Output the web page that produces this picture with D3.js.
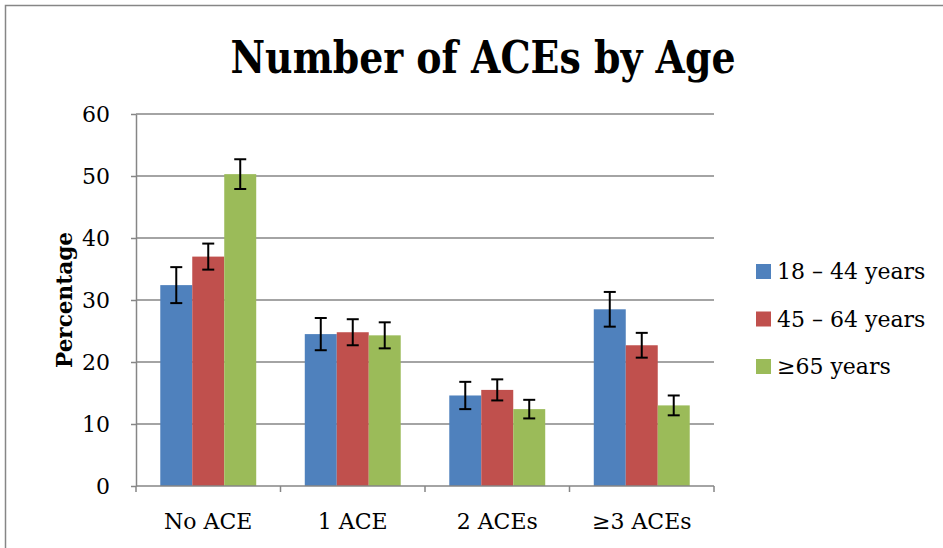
<!DOCTYPE html>
<html><head><meta charset="utf-8">
<script src="https://cdn.jsdelivr.net/npm/d3@7"></script>
<style>body{margin:0;background:#fff}svg{display:block}</style>
</head><body>
<svg id="c" width="943" height="548"></svg>
<script>
const categories = ["No ACE", "1 ACE", "2 ACEs", "≥3 ACEs"];
const seriesNames = ["18 – 44 years", "45 – 64 years", "≥65 years"];
const colors = ["#4F81BD", "#C0504D", "#9BBB59"];
const values18_44 = [32.4, 24.5, 14.6, 28.5];
const values45_64 = [37.0, 24.8, 15.5, 22.7];
const values65 = [50.3, 24.3, 12.4, 13.0];
const err18_44 = [2.9, 2.6, 2.2, 2.8];
const err45_64 = [2.1, 2.1, 1.7, 2.0];
const err65 = [2.4, 2.1, 1.5, 1.6];
const yTicks = [0, 10, 20, 30, 40, 50, 60];
const title = "Number of ACEs by Age";
const yTitle = "Percentage";

const seriesVals = [values18_44, values45_64, values65];
const seriesErr = [err18_44, err45_64, err65];

const svg = d3.select("#c");
const serif = "'DejaVu Serif', serif";

// outer border
svg.append("rect").attr("x", 5.5).attr("y", 5.5).attr("width", 960).attr("height", 560)
  .attr("fill", "none").attr("stroke", "#868686").attr("stroke-width", 1.5);

const L = 136, R = 714, T = 114, B = 486;
const y = d3.scaleLinear().domain([0, 60]).range([B, T]);
const x0 = d3.scaleBand().domain(categories).range([L, R]).padding(0);
const groupFrac = 0.664;
const x1 = d3.scaleBand().domain(d3.range(seriesNames.length))
  .range([0, x0.bandwidth() * groupFrac]).padding(0);
const groupOff = x0.bandwidth() * (1 - groupFrac) / 2;

// gridlines
svg.append("g").selectAll("line").data(yTicks.filter(d => d > 0)).join("line")
  .attr("x1", L).attr("x2", R).attr("y1", d => y(d)).attr("y2", d => y(d))
  .attr("stroke", "#868686").attr("stroke-width", 1.5);

// y axis
const yAxis = svg.append("g").attr("transform", `translate(${L},0)`)
  .call(d3.axisLeft(y).tickValues(yTicks).tickSize(5).tickPadding(21).tickSizeOuter(0));
yAxis.select(".domain").attr("stroke", "#868686").attr("stroke-width", 1.5);
yAxis.selectAll(".tick line").attr("stroke", "#868686").attr("stroke-width", 1.5);
yAxis.selectAll("text").attr("font-family", serif).attr("font-size", 22).attr("fill", "#000");

// bars
seriesVals.forEach((vals, s) => {
  svg.append("g").selectAll("rect").data(vals).join("rect")
    .attr("x", (d, i) => x0(categories[i]) + groupOff + x1(s))
    .attr("width", x1.bandwidth())
    .attr("y", d => y(d))
    .attr("height", d => B - y(d))
    .attr("fill", colors[s]);
});

// x axis
const xg = svg.append("g");
xg.append("line").attr("x1", L).attr("x2", R).attr("y1", B).attr("y2", B)
  .attr("stroke", "#868686").attr("stroke-width", 1.5);
const bounds = categories.map(c => x0(c)).concat([R]);
xg.selectAll("line.tk").data(bounds).join("line").attr("class", "tk")
  .attr("x1", d => d).attr("x2", d => d).attr("y1", B).attr("y2", B + 6)
  .attr("stroke", "#868686").attr("stroke-width", 1.5);
xg.selectAll("text").data(categories).join("text")
  .attr("x", d => x0(d) + x0.bandwidth() / 2).attr("y", 529)
  .attr("text-anchor", "middle").attr("font-family", serif).attr("font-size", 22)
  .text(d => d);

// error bars
seriesVals.forEach((vals, s) => {
  const g = svg.append("g").attr("stroke", "#000").attr("stroke-width", 2);
  vals.forEach((v, i) => {
    const cx = x0(categories[i]) + groupOff + x1(s) + x1.bandwidth() / 2;
    const e = seriesErr[s][i];
    g.append("line").attr("x1", cx).attr("x2", cx).attr("y1", y(v + e)).attr("y2", y(v - e));
    g.append("line").attr("x1", cx - 6).attr("x2", cx + 6).attr("y1", y(v + e)).attr("y2", y(v + e));
    g.append("line").attr("x1", cx - 6).attr("x2", cx + 6).attr("y1", y(v - e)).attr("y2", y(v - e));
  });
});

// title
svg.append("text").attr("x", 483).attr("y", 73).attr("text-anchor", "middle")
  .attr("font-family", serif).attr("font-weight", "bold").attr("font-size", 44)
  .attr("textLength", 505).attr("lengthAdjust", "spacingAndGlyphs").text(title);

// y title
svg.append("text").attr("transform", "translate(72,300) rotate(-90)")
  .attr("text-anchor", "middle").attr("font-family", serif).attr("font-weight", "bold")
  .attr("font-size", 22).attr("textLength", 136).attr("lengthAdjust", "spacingAndGlyphs").text(yTitle);

// legend
const lg = svg.append("g");
seriesNames.forEach((n, i) => {
  const cy = 271 + i * 47.5;
  lg.append("rect").attr("x", 756).attr("y", cy - 7).attr("width", 15).attr("height", 15).attr("fill", colors[i]);
  lg.append("text").attr("x", 777).attr("y", cy + 8).attr("font-family", serif)
    .attr("font-size", 22).text(n);
});
</script>
</body></html>
